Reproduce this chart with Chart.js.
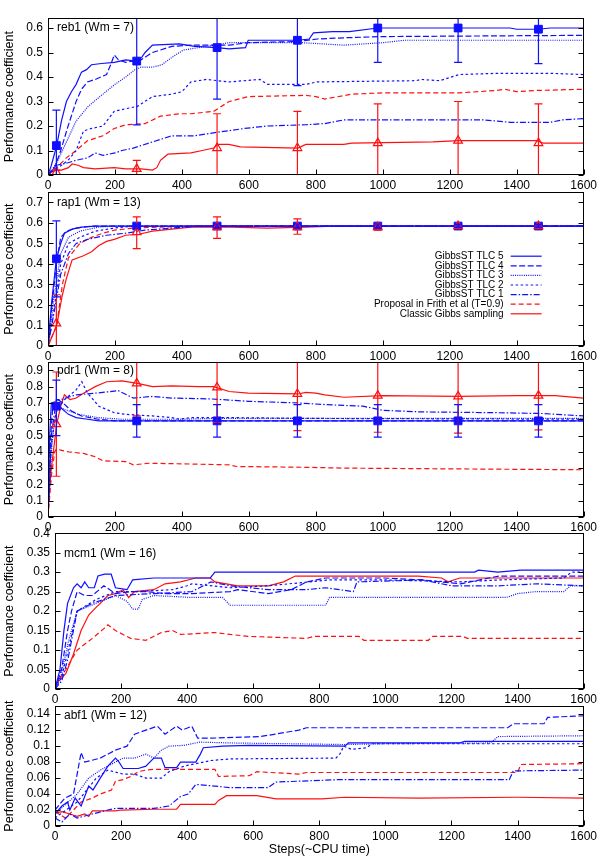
<!DOCTYPE html>
<html>
<head>
<meta charset="utf-8">
<script src="https://cdn.jsdelivr.net/npm/chart.js@4.4.1/dist/chart.umd.min.js"></script>
<style>
  html, body { margin: 0; padding: 0; background: #fff; }
  #wrap { position: relative; width: 600px; height: 857px; }
  #wrap > div { position: absolute; left: 0; width: 600px; }
  canvas { display: block; }
</style>
</head>
<body>
<div id="wrap"></div>
<script>
const SERIES_NAMES = ['GibbsST TLC 5', 'GibbsST TLC 4', 'GibbsST TLC 3', 'GibbsST TLC 2', 'GibbsST TLC 1',
  'Proposal in Frith et al (T=0.9)', 'Classic Gibbs sampling'];
const X_TICKS = [0, 200, 400, 600, 800, 1000, 1200, 1400, 1600];
const ERR_X = [25, 265, 505, 745, 985, 1225, 1465];

// reb1
const REB1_TLC5 = [[0,0],[10,0.04],[26,0.12],[40,0.22],[55,0.3],[70,0.34],[84,0.37],[100,0.42],[115,0.43],[130,0.45],[160,0.455],[198,0.46],[232,0.47],[265,0.465],[280,0.48],[290,0.5],[312,0.53],[392,0.535],[438,0.525],[505,0.52],[541,0.515],[590,0.52],[598,0.55],[747,0.55],[780,0.555],[793,0.58],[850,0.585],[900,0.585],[985,0.6],[1380,0.6],[1400,0.595],[1465,0.595],[1500,0.6],[1600,0.6]];
const REB1_TLC4 = [[0,0],[20,0.03],[38,0.1],[60,0.2],[84,0.3],[100,0.35],[118,0.38],[141,0.39],[175,0.41],[190,0.46],[198,0.49],[210,0.47],[232,0.46],[278,0.47],[300,0.49],[312,0.5],[370,0.525],[427,0.53],[541,0.53],[598,0.54],[747,0.545],[804,0.555],[884,0.56],[999,0.565],[1600,0.57]];
const REB1_TLC3 = [[0,0],[26,0.05],[50,0.12],[84,0.22],[120,0.28],[164,0.33],[200,0.37],[232,0.4],[260,0.43],[278,0.44],[312,0.44],[340,0.45],[370,0.48],[404,0.51],[450,0.52],[541,0.54],[655,0.54],[760,0.54],[884,0.53],[999,0.54],[1066,0.55],[1600,0.55]];
const REB1_TLC2 = [[0,0],[30,0.03],[60,0.06],[84,0.1],[106,0.18],[130,0.19],[164,0.2],[198,0.26],[230,0.27],[267,0.28],[312,0.32],[370,0.33],[400,0.34],[427,0.38],[473,0.39],[541,0.38],[633,0.39],[655,0.37],[770,0.37],[804,0.38],[1100,0.385],[1113,0.39],[1170,0.385],[1228,0.41],[1342,0.415],[1500,0.415],[1600,0.41]];
const REB1_TLC1 = [[0,0],[26,0.04],[60,0.05],[84,0.06],[118,0.07],[141,0.09],[164,0.08],[200,0.09],[221,0.1],[255,0.11],[312,0.135],[370,0.16],[438,0.16],[484,0.17],[587,0.19],[655,0.2],[770,0.205],[827,0.21],[884,0.225],[1300,0.225],[1342,0.22],[1380,0.215],[1500,0.215],[1536,0.225],[1600,0.23]];
const REB1_FRITH = [[0,0],[26,0.03],[55,0.07],[84,0.1],[118,0.14],[164,0.16],[198,0.19],[232,0.205],[290,0.21],[336,0.24],[392,0.25],[427,0.25],[495,0.26],[541,0.3],[598,0.32],[770,0.325],[800,0.32],[827,0.31],[907,0.33],[999,0.335],[1228,0.335],[1340,0.345],[1365,0.35],[1400,0.34],[1456,0.345],[1600,0.35]];
const REB1_CLASSIC = [[0,0],[15,0.02],[40,0.02],[61,0.03],[72,0.045],[90,0.04],[106,0.03],[141,0.025],[198,0.03],[232,0.025],[278,0.025],[312,0.02],[325,0.03],[336,0.06],[358,0.085],[427,0.09],[461,0.1],[495,0.11],[507,0.125],[540,0.125],[575,0.115],[747,0.11],[770,0.125],[884,0.125],[907,0.13],[1150,0.135],[1228,0.14],[1460,0.14],[1479,0.13],[1600,0.13]];
const REB1_BLUE_MID = [0.12, 0.465, 0.52, 0.55, 0.6, 0.6, 0.595];
const REB1_BLUE_LO = [-0.025, 0.205, 0.31, 0.365, 0.46, 0.46, 0.455];
const REB1_BLUE_HI = [0.265, 0.725, 0.73, 0.735, 0.74, 0.74, 0.735];
const REB1_RED_MID = [0.01, 0.025, 0.11, 0.11, 0.13, 0.14, 0.13];
const REB1_RED_LO = [0, -0.01, -0.03, -0.04, -0.03, -0.02, -0.03];
const REB1_RED_HI = [0.02, 0.06, 0.25, 0.26, 0.29, 0.3, 0.29];

// rap1
const RAP1_TLC5 = [[0,0],[10,0.2],[20,0.35],[25,0.425],[38,0.5],[49,0.55],[72,0.57],[100,0.58],[141,0.585],[1600,0.585]];
const RAP1_TLC4 = [[0,0],[12,0.2],[25,0.4],[38,0.53],[55,0.56],[84,0.575],[130,0.585],[1600,0.585]];
const RAP1_TLC3 = [[0,0],[15,0.2],[38,0.45],[61,0.53],[95,0.56],[152,0.58],[200,0.585],[1600,0.585]];
const RAP1_TLC2 = [[0,0],[20,0.2],[38,0.4],[61,0.5],[95,0.53],[141,0.56],[198,0.575],[255,0.585],[1600,0.585]];
const RAP1_TLC1 = [[0,0],[20,0.18],[38,0.35],[61,0.45],[84,0.5],[118,0.52],[175,0.54],[232,0.55],[290,0.565],[370,0.575],[450,0.585],[1600,0.585]];
const RAP1_FRITH = [[0,0],[26,0.1],[43,0.3],[61,0.43],[95,0.5],[130,0.53],[164,0.55],[198,0.565],[255,0.575],[336,0.58],[427,0.585],[1600,0.585]];
const RAP1_CLASSIC = [[0,0],[26,0.1],[43,0.25],[55,0.33],[72,0.42],[106,0.44],[130,0.46],[152,0.49],[175,0.51],[198,0.52],[232,0.54],[272,0.545],[312,0.56],[370,0.57],[427,0.58],[550,0.58],[655,0.575],[770,0.58],[850,0.585],[1600,0.585]];
const RAP1_BLUE_MID = [0.425, 0.585, 0.585, 0.585, 0.585, 0.585, 0.585];
const RAP1_BLUE_LO = [0.24, 0.575, 0.575, 0.575, 0.575, 0.578, 0.578];
const RAP1_BLUE_HI = [0.61, 0.595, 0.595, 0.595, 0.595, 0.592, 0.592];
const RAP1_RED_MID = [0.11, 0.555, 0.58, 0.58, 0.58, 0.585, 0.585];
const RAP1_RED_LO = [-0.03, 0.475, 0.525, 0.545, 0.565, 0.58, 0.58];
const RAP1_RED_HI = [0.25, 0.63, 0.63, 0.62, 0.595, 0.59, 0.59];

// pdr1
const PDR1_TLC5 = [[0,0],[5,0.5],[10,0.7],[25,0.68],[38,0.67],[61,0.63],[84,0.61],[118,0.6],[152,0.59],[1600,0.59]];
const PDR1_TLC4 = [[0,0],[8,0.5],[15,0.7],[30,0.72],[45,0.7],[70,0.65],[100,0.62],[150,0.6],[200,0.59],[1600,0.59]];
const PDR1_TLC3 = [[0,0],[10,0.4],[20,0.6],[30,0.68],[50,0.66],[90,0.63],[150,0.61],[220,0.6],[400,0.6],[500,0.605],[1600,0.605]];
const PDR1_TLC2 = [[0,0],[10,0.45],[25,0.65],[49,0.72],[84,0.78],[101,0.83],[118,0.76],[152,0.68],[198,0.64],[232,0.63],[312,0.62],[370,0.61],[393,0.6],[427,0.61],[541,0.61],[770,0.605],[1600,0.6]];
const PDR1_TLC1 = [[0,0],[10,0.5],[25,0.72],[38,0.72],[84,0.75],[141,0.76],[210,0.775],[255,0.73],[312,0.74],[370,0.73],[484,0.725],[598,0.71],[747,0.7],[827,0.69],[941,0.68],[999,0.655],[1113,0.645],[1342,0.64],[1479,0.635],[1600,0.62]];
const PDR1_FRITH = [[0,0],[10,0.25],[20,0.4],[26,0.42],[38,0.41],[61,0.4],[106,0.39],[141,0.37],[164,0.345],[232,0.34],[255,0.32],[301,0.33],[427,0.325],[541,0.32],[564,0.31],[770,0.305],[884,0.3],[1228,0.295],[1600,0.29]];
const PDR1_CLASSIC = [[0,0.07],[10,0.3],[26,0.57],[38,0.68],[49,0.75],[66,0.72],[84,0.73],[106,0.76],[141,0.8],[175,0.83],[221,0.835],[267,0.82],[312,0.8],[370,0.805],[450,0.8],[495,0.8],[541,0.77],[598,0.76],[747,0.755],[770,0.765],[800,0.76],[827,0.75],[884,0.735],[999,0.745],[1228,0.74],[1400,0.745],[1515,0.745],[1600,0.73]];
const PDR1_BLUE_MID = [0.68, 0.59, 0.59, 0.59, 0.59, 0.59, 0.59];
const PDR1_BLUE_LO = [0.5, 0.49, 0.49, 0.49, 0.49, 0.49, 0.49];
const PDR1_BLUE_HI = [0.84, 0.69, 0.69, 0.69, 0.69, 0.69, 0.69];
const PDR1_RED_MID = [0.57, 0.82, 0.795, 0.755, 0.745, 0.74, 0.745];
const PDR1_RED_LO = [0.25, 0.62, 0.58, 0.53, 0.52, 0.515, 0.535];
const PDR1_RED_HI = [0.89, 1.02, 1.01, 0.98, 0.97, 0.965, 0.955];

// mcm1
const MCM1_TLC5 = [[0,0],[15,0.05],[27,0.15],[38,0.22],[56,0.26],[67,0.27],[79,0.26],[90,0.275],[102,0.26],[119,0.26],[130,0.29],[150,0.295],[170,0.295],[183,0.26],[218,0.255],[235,0.28],[299,0.285],[470,0.285],[484,0.3],[1270,0.3],[1282,0.305],[1340,0.3],[1410,0.305],[1600,0.305]];
const MCM1_TLC4 = [[0,0],[20,0.05],[38,0.15],[50,0.2],[67,0.25],[90,0.24],[113,0.24],[148,0.265],[183,0.245],[229,0.25],[275,0.25],[333,0.245],[414,0.245],[530,0.25],[553,0.255],[646,0.245],[715,0.255],[762,0.275],[819,0.285],[995,0.285],[1111,0.28],[1227,0.27],[1343,0.29],[1600,0.29]];
const MCM1_TLC3 = [[0,0],[20,0.04],[40,0.12],[67,0.2],[125,0.22],[183,0.24],[218,0.225],[235,0.205],[252,0.205],[264,0.23],[299,0.24],[414,0.235],[507,0.235],[530,0.215],[819,0.215],[831,0.235],[1366,0.235],[1400,0.245],[1456,0.25],[1540,0.25],[1560,0.265],[1600,0.265]];
const MCM1_TLC2 = [[0,0],[20,0.03],[40,0.1],[67,0.2],[125,0.23],[183,0.25],[241,0.25],[356,0.255],[400,0.265],[414,0.27],[530,0.26],[646,0.265],[831,0.28],[1000,0.28],[1227,0.275],[1343,0.28],[1540,0.285],[1563,0.3],[1600,0.3]];
const MCM1_TLC1 = [[0,0],[20,0.02],[40,0.08],[67,0.2],[113,0.22],[183,0.24],[299,0.245],[414,0.25],[472,0.275],[530,0.265],[646,0.255],[762,0.255],[819,0.26],[903,0.25],[914,0.275],[1111,0.28],[1200,0.265],[1343,0.265],[1456,0.27],[1600,0.265]];
const MCM1_FRITH = [[0,0.01],[33,0.05],[67,0.1],[113,0.13],[148,0.155],[160,0.165],[183,0.15],[229,0.13],[275,0.125],[322,0.145],[356,0.15],[380,0.14],[484,0.145],[530,0.14],[588,0.135],[762,0.13],[784,0.135],[920,0.135],[935,0.125],[1130,0.125],[1143,0.135],[1235,0.135],[1248,0.13],[1600,0.13]];
const MCM1_CLASSIC = [[0,0.01],[33,0.04],[56,0.09],[79,0.15],[102,0.19],[125,0.21],[137,0.22],[160,0.24],[183,0.245],[206,0.255],[223,0.235],[241,0.25],[299,0.255],[333,0.27],[380,0.275],[426,0.285],[470,0.285],[484,0.275],[553,0.265],[646,0.265],[692,0.275],[727,0.29],[1100,0.29],[1170,0.285],[1190,0.275],[1225,0.285],[1600,0.285]];

// abf1
const ABF1_TLC5 = [[0,0.015],[21,0.025],[38,0.03],[45,0.02],[61,0.035],[79,0.025],[102,0.05],[115,0.045],[137,0.06],[160,0.075],[183,0.085],[194,0.08],[206,0.072],[252,0.072],[275,0.075],[299,0.085],[322,0.085],[333,0.073],[368,0.073],[380,0.08],[426,0.08],[440,0.09],[449,0.098],[507,0.1],[588,0.101],[877,0.1],[888,0.104],[1226,0.104],[1240,0.106],[1600,0.106]];
const ABF1_TLC4 = [[0,0.02],[30,0.035],[56,0.04],[79,0.092],[90,0.08],[137,0.085],[183,0.095],[218,0.1],[241,0.115],[275,0.12],[310,0.125],[333,0.115],[368,0.125],[385,0.12],[414,0.125],[432,0.11],[472,0.11],[622,0.112],[738,0.12],[761,0.123],[1370,0.123],[1387,0.128],[1480,0.128],[1491,0.136],[1600,0.138]];
const ABF1_TLC3 = [[0,0.015],[67,0.04],[102,0.06],[137,0.07],[160,0.075],[206,0.085],[241,0.085],[275,0.09],[299,0.085],[322,0.095],[345,0.1],[391,0.101],[438,0.105],[530,0.104],[877,0.102],[1000,0.103],[1318,0.104],[1341,0.112],[1600,0.113]];
const ABF1_TLC2 = [[0,0.01],[67,0.03],[125,0.06],[160,0.07],[206,0.065],[241,0.065],[275,0.06],[322,0.06],[345,0.068],[391,0.075],[472,0.082],[530,0.084],[850,0.085],[862,0.09],[874,0.1],[897,0.096],[943,0.098],[960,0.103],[1600,0.103]];
const ABF1_TLC1 = [[0,0.01],[21,0.005],[45,0.015],[67,0.01],[113,0.015],[160,0.02],[183,0.022],[299,0.022],[345,0.025],[380,0.037],[403,0.04],[426,0.052],[484,0.05],[530,0.048],[645,0.048],[669,0.055],[855,0.058],[1375,0.058],[1387,0.069],[1600,0.07]];
const ABF1_FRITH = [[0,0.018],[32,0.01],[56,0.02],[79,0.03],[113,0.035],[137,0.04],[171,0.045],[183,0.056],[206,0.058],[229,0.062],[252,0.068],[275,0.07],[299,0.071],[484,0.071],[495,0.062],[588,0.063],[611,0.068],[738,0.065],[762,0.067],[1400,0.067],[1410,0.077],[1600,0.078]];
const ABF1_CLASSIC = [[0,0.016],[21,0.018],[45,0.015],[67,0.012],[90,0.015],[102,0.012],[113,0.019],[183,0.019],[200,0.02],[299,0.021],[368,0.021],[380,0.027],[484,0.027],[495,0.032],[519,0.038],[611,0.038],[669,0.034],[808,0.034],[877,0.036],[1100,0.035],[1400,0.036],[1600,0.035]];

const BLUE = '#1010ff';
const RED = '#ff1010';
const FONT = '"Liberation Sans", Arial, sans-serif';
const STYLES = [
  { color: BLUE, dash: [] },
  { color: BLUE, dash: [6, 2.5] },
  { color: BLUE, dash: [1, 1.2] },
  { color: BLUE, dash: [2.5, 2.5] },
  { color: BLUE, dash: [6, 2, 1.5, 2] },
  { color: RED, dash: [5, 3] },
  { color: RED, dash: [] },
];

const PAD_TOP = 6;
const RIGHT = 587;

const panels = [
  { label: 'reb1 (Wm = 7)', labelDy: 9, top: 12, bottom: 175, left: 48, yMax: 0.64, step: 0.1,
    lines: [REB1_TLC5, REB1_TLC4, REB1_TLC3, REB1_TLC2, REB1_TLC1, REB1_FRITH, REB1_CLASSIC],
    blue: [REB1_BLUE_MID, REB1_BLUE_LO, REB1_BLUE_HI], red: [REB1_RED_MID, REB1_RED_LO, REB1_RED_HI] },
  { label: 'rap1 (Wm = 13)', labelDy: 10, top: 186, bottom: 346, left: 48, yMax: 0.75, step: 0.1, legend: true,
    lines: [RAP1_TLC5, RAP1_TLC4, RAP1_TLC3, RAP1_TLC2, RAP1_TLC1, RAP1_FRITH, RAP1_CLASSIC],
    blue: [RAP1_BLUE_MID, RAP1_BLUE_LO, RAP1_BLUE_HI], red: [RAP1_RED_MID, RAP1_RED_LO, RAP1_RED_HI] },
  { label: 'pdr1 (Wm = 8)', labelDy: 8, top: 356, bottom: 517, left: 48, yMax: 0.95, step: 0.1,
    lines: [PDR1_TLC5, PDR1_TLC4, PDR1_TLC3, PDR1_TLC2, PDR1_TLC1, PDR1_FRITH, PDR1_CLASSIC],
    blue: [PDR1_BLUE_MID, PDR1_BLUE_LO, PDR1_BLUE_HI], red: [PDR1_RED_MID, PDR1_RED_LO, PDR1_RED_HI] },
  { label: 'mcm1 (Wm = 16)', labelDy: 20, top: 527, bottom: 689, left: 55, yMax: 0.4, step: 0.05,
    lines: [MCM1_TLC5, MCM1_TLC4, MCM1_TLC3, MCM1_TLC2, MCM1_TLC1, MCM1_FRITH, MCM1_CLASSIC] },
  { label: 'abf1 (Wm = 12)', labelDy: 9, top: 700, bottom: 826, left: 55, yMax: 0.15, step: 0.02, xTitle: 'Steps(~CPU time)',
    lines: [ABF1_TLC5, ABF1_TLC4, ABF1_TLC3, ABF1_TLC2, ABF1_TLC1, ABF1_FRITH, ABF1_CLASSIC] },
];

function fmt(v) {
  return String(parseFloat(v.toFixed(3)));
}

function makeDecor(panel) {
  return {
    id: 'decor',
    afterDatasetsDraw(chart) {
      const { ctx, chartArea: a, scales: { x, y } } = chart;
      ctx.save();
      ctx.beginPath();
      ctx.rect(a.left, a.top, a.width, a.height);
      ctx.clip();
      ctx.lineWidth = 1.2;
      const sets = [];
      if (panel.red) sets.push([RED, panel.red]);
      if (panel.blue) sets.push([BLUE, panel.blue]);
      for (const [color, [mid, lo, hi]] of sets) {
        ctx.strokeStyle = color;
        ERR_X.forEach((v, i) => {
          const px = x.getPixelForValue(v);
          const y0 = y.getPixelForValue(lo[i]);
          const y1 = y.getPixelForValue(hi[i]);
          ctx.beginPath();
          ctx.moveTo(px, y0); ctx.lineTo(px, y1);
          ctx.moveTo(px - 4, y0); ctx.lineTo(px + 4, y0);
          ctx.moveTo(px - 4, y1); ctx.lineTo(px + 4, y1);
          ctx.stroke();
        });
      }
      ctx.restore();
    },
    afterDraw(chart) {
      const { ctx, chartArea: a, scales: { x, y } } = chart;
      ctx.save();
      ctx.strokeStyle = '#000';
      ctx.lineWidth = 1;
      const l = Math.round(a.left) + 0.5, r = Math.round(a.right) - 0.5;
      const t = Math.round(a.top) + 0.5, b = Math.round(a.bottom) - 0.5;
      ctx.strokeRect(l, t, r - l, b - t);
      ctx.beginPath();
      for (const tk of y.ticks) {
        const py = Math.round(y.getPixelForValue(tk.value)) + 0.5;
        ctx.moveTo(l, py); ctx.lineTo(l + 5, py);
        ctx.moveTo(r, py); ctx.lineTo(r - 5, py);
      }
      for (const tk of x.ticks) {
        const px = Math.round(x.getPixelForValue(tk.value)) + 0.5;
        ctx.moveTo(px, b); ctx.lineTo(px, b - 5);
      }
      ctx.stroke();

      ctx.fillStyle = '#000';
      ctx.font = '12px ' + FONT;
      ctx.textBaseline = 'middle';
      ctx.textAlign = 'left';
      ctx.fillText(panel.label, a.left + 9, a.top + panel.labelDy);

      if (panel.legend) {
        ctx.font = '10px ' + FONT;
        ctx.textAlign = 'right';
        SERIES_NAMES.forEach((name, i) => {
          const ry = a.top + 64 + i * 9.6;
          ctx.fillStyle = '#000';
          ctx.fillText(name, a.right - 80, ry);
          ctx.strokeStyle = STYLES[i].color;
          ctx.lineWidth = 1.2;
          ctx.setLineDash(STYLES[i].dash);
          ctx.beginPath();
          ctx.moveTo(a.right - 73, ry); ctx.lineTo(a.right - 42, ry);
          ctx.stroke();
        });
        ctx.setLineDash([]);
      }
      ctx.restore();
    },
  };
}

const wrap = document.getElementById('wrap');

panels.forEach((panel) => {
  const xh = panel.xTitle ? 857 - panel.bottom : 16;
  const h = PAD_TOP + (panel.bottom - panel.top) + xh;
  const box = document.createElement('div');
  box.style.top = (panel.top - PAD_TOP) + 'px';
  box.style.height = h + 'px';
  const canvas = document.createElement('canvas');
  canvas.width = 600;
  canvas.height = h;
  box.appendChild(canvas);
  wrap.appendChild(box);

  const datasets = panel.lines.map((pts, i) => ({
    label: SERIES_NAMES[i],
    data: pts.map(([x, y]) => ({ x, y })),
    borderColor: STYLES[i].color,
    borderDash: STYLES[i].dash,
    borderWidth: 1.2,
    pointRadius: 0,
    fill: false,
    tension: 0,
  }));
  if (panel.blue) {
    datasets.unshift({
      label: 'TLC 5 mean',
      data: ERR_X.map((x, i) => ({ x, y: panel.blue[0][i] })),
      showLine: false,
      pointStyle: 'rect',
      pointRadius: 5.5,
      backgroundColor: BLUE,
      borderColor: BLUE,
      borderWidth: 1,
    });
  }
  if (panel.red) {
    datasets.unshift({
      label: 'Classic mean',
      data: ERR_X.map((x, i) => ({ x, y: panel.red[0][i] })),
      showLine: false,
      pointStyle: 'triangle',
      pointRadius: 5,
      backgroundColor: 'rgba(0,0,0,0)',
      borderColor: RED,
      borderWidth: 1.2,
    });
  }

  new Chart(canvas, {
    type: 'line',
    data: { datasets },
    plugins: [makeDecor(panel)],
    options: {
      responsive: false,
      animation: false,
      devicePixelRatio: 1,
      layout: { padding: { top: PAD_TOP, right: 600 - RIGHT, left: 0, bottom: 0 } },
      plugins: { legend: { display: false }, tooltip: { enabled: false } },
      scales: {
        x: {
          type: 'linear',
          min: 0,
          max: 1600,
          afterFit: (s) => { s.height = xh; },
          afterBuildTicks: (s) => { s.ticks = X_TICKS.map((value) => ({ value })); },
          grid: { display: false, drawTicks: false },
          border: { display: false },
          ticks: { color: '#000', font: { family: FONT, size: 12 }, padding: 3, maxRotation: 0,
            autoSkip: false, callback: (v) => String(v) },
          title: { display: !!panel.xTitle, text: panel.xTitle || '', color: '#000',
            font: { family: FONT, size: 12.5 }, padding: { top: 0, bottom: 0 } },
        },
        y: {
          min: 0,
          max: panel.yMax,
          afterFit: (s) => { s.width = panel.left; },
          grid: { display: false, drawTicks: false },
          border: { display: false },
          ticks: { stepSize: panel.step, includeBounds: false, autoSkip: false, color: '#000',
            font: { family: FONT, size: 12 }, padding: 5, callback: (v) => fmt(v) },
          title: { display: true, text: 'Performance coefficient', color: '#000',
            font: { family: FONT, size: 12.5 }, padding: { top: 2, bottom: 0 } },
        },
      },
    },
  });
});
</script>
</body>
</html>
